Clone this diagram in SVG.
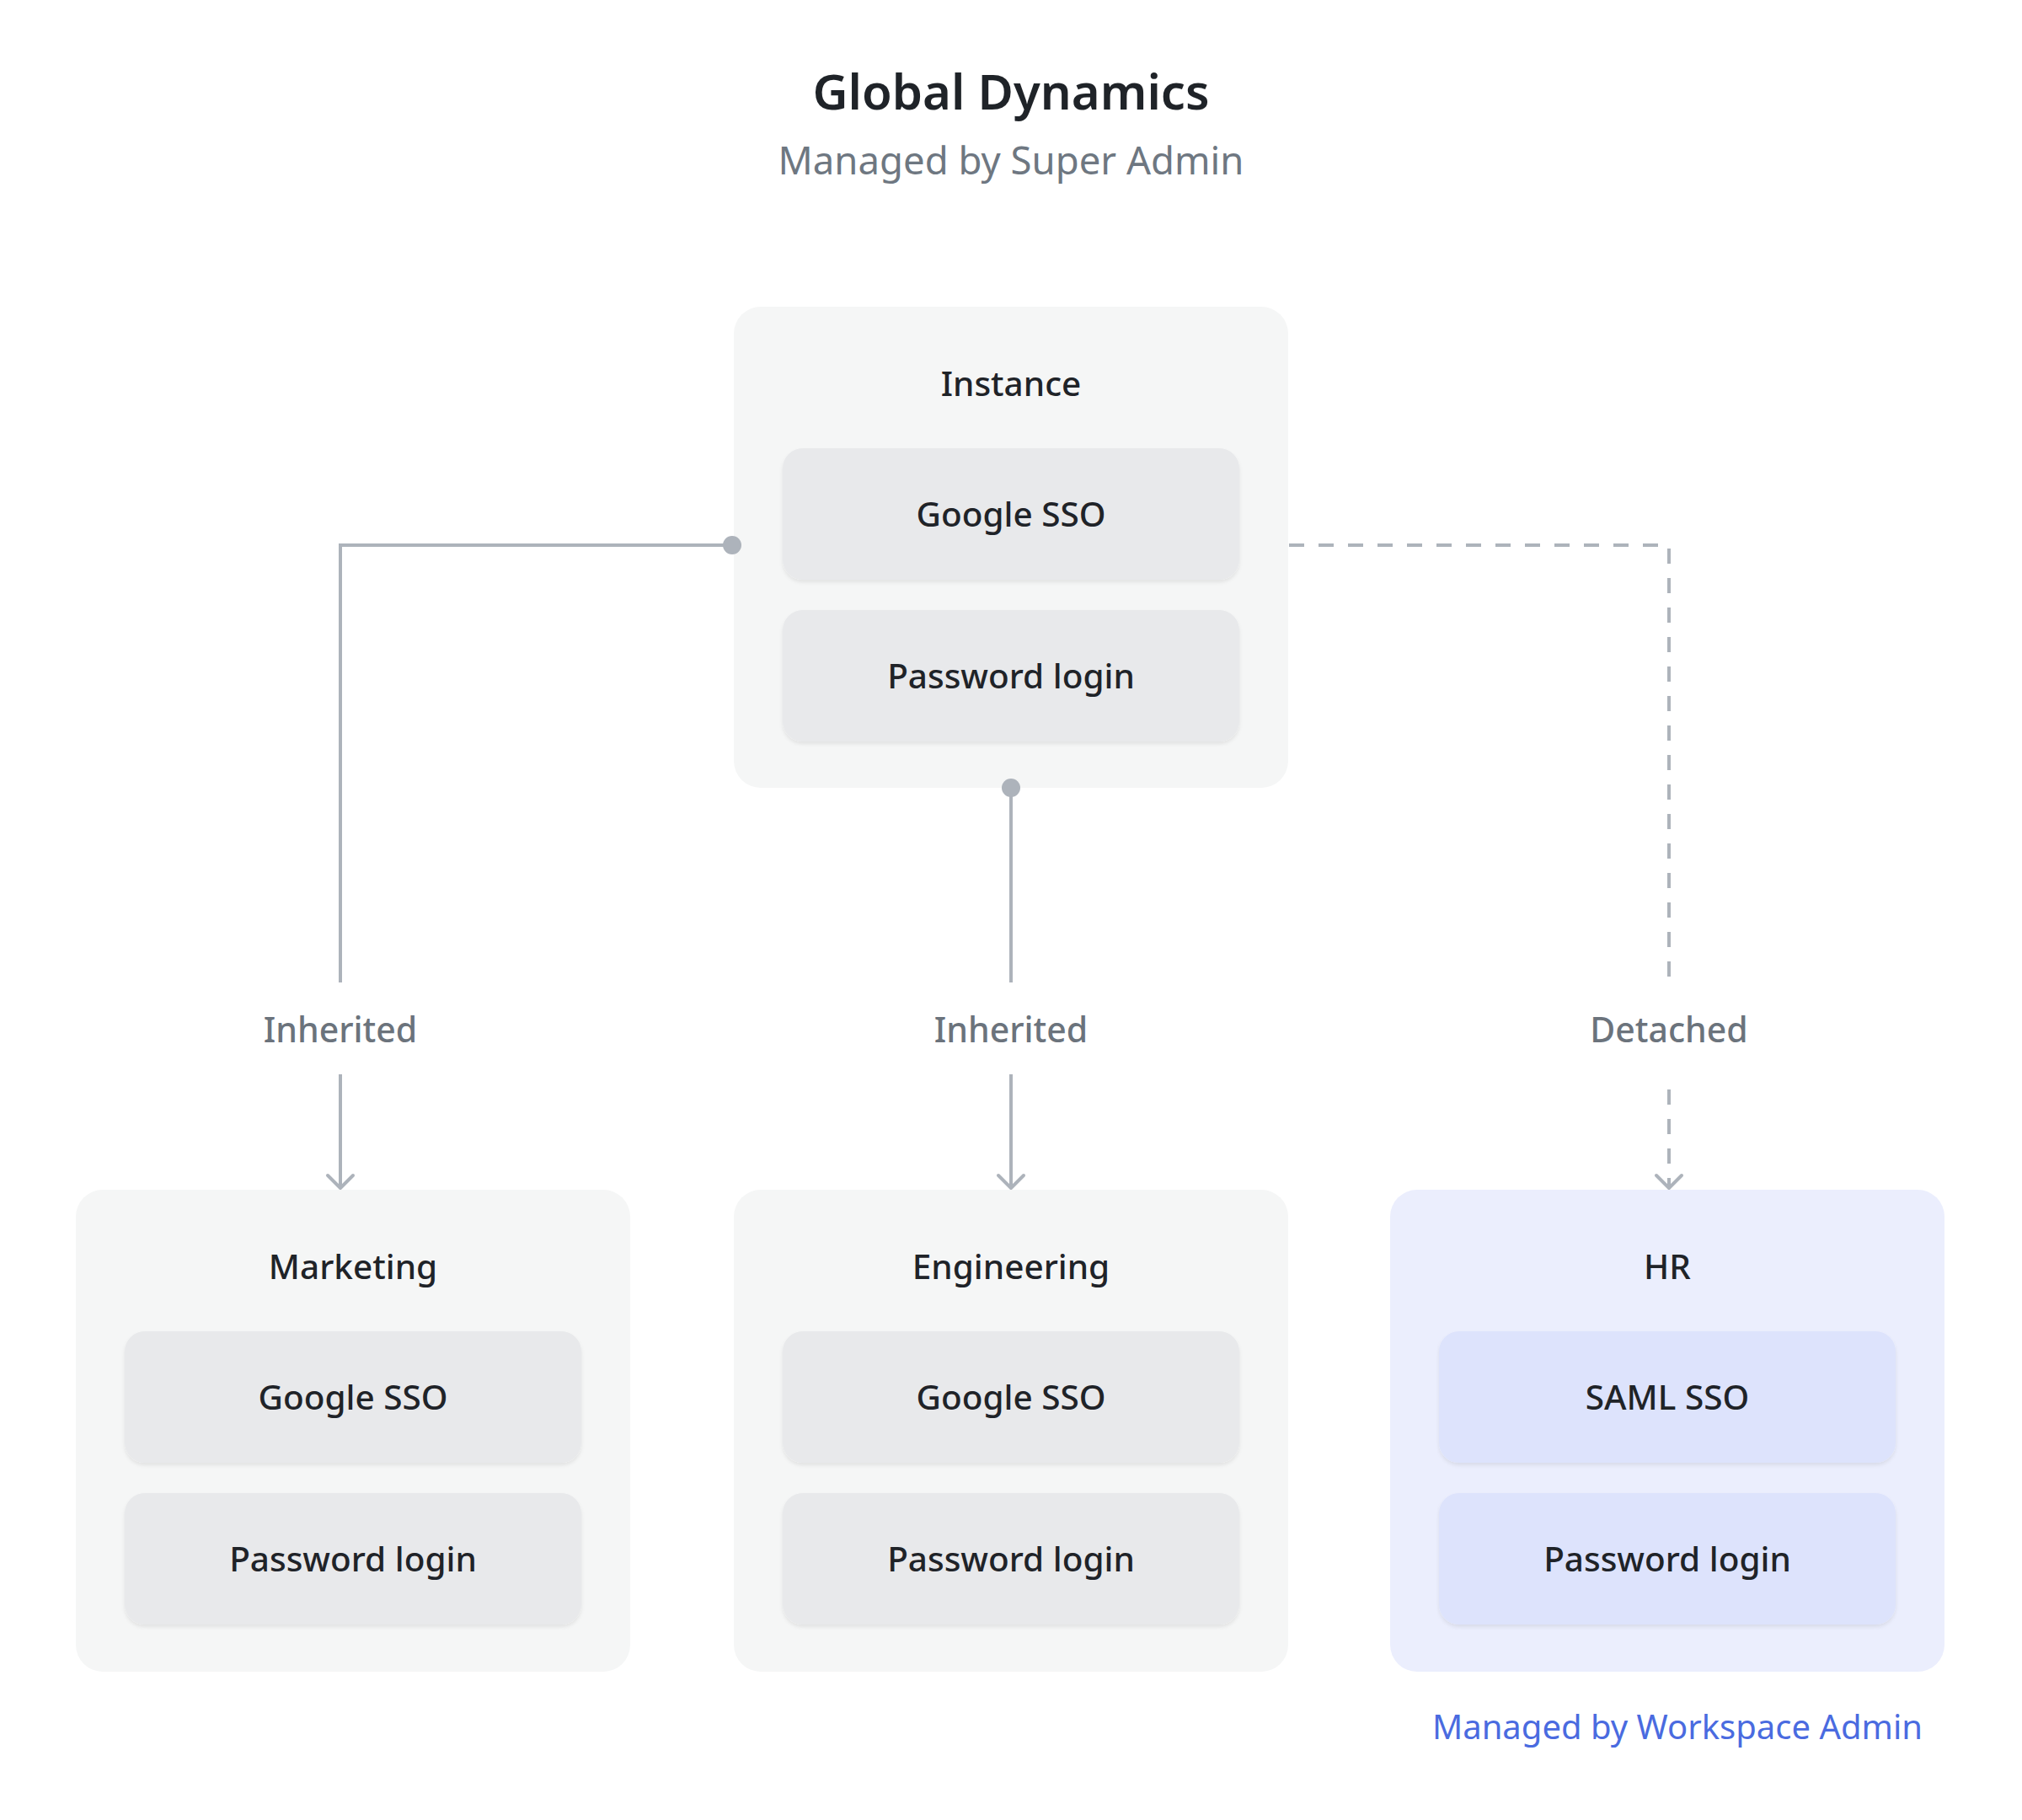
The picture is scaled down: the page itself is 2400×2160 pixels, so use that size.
<svg xmlns="http://www.w3.org/2000/svg" width="2400" height="2160" viewBox="0 0 2400 2160">
  <defs>
    <style>
      text { font-family: "Noto Sans", "Open Sans", "Liberation Sans", sans-serif; text-anchor: middle; }
      .title { font-size: 58px; font-weight: 600; fill: #1f2328; }
      .subtitle { font-size: 45.5px; font-weight: 400; fill: #6e7781; }
      .group { fill: #f5f6f6; }
      .group-hr { fill: #ebeefd; }
      .item { fill: #e8e9eb; filter: url(#shadow); }
      .item-hr { fill: #dde3fc; filter: url(#shadow); }
      .label { font-size: 40.5px; font-weight: 500; fill: #1f2328; }
      .edge-label { font-size: 41px; font-weight: 500; fill: #6b737c; }
      .note { font-size: 40px; font-weight: 400; fill: #4a6be0; }
      .conn { fill: none; stroke: #adb3bb; stroke-width: 4; }
      .dashed { stroke-dasharray: 18 17; }
      .dot { fill: #adb3bb; }
    </style>
    <filter id="shadow" x="-5%" y="-10%" width="110%" height="130%">
      <feDropShadow dx="0" dy="3" stdDeviation="2" flood-color="#000" flood-opacity="0.08"/>
    </filter>
    <marker id="arrow" viewBox="0 0 40 40" refX="36" refY="20" markerWidth="40" markerHeight="40" markerUnits="userSpaceOnUse" orient="auto">
      <path d="M21,5 L36,20 L21,35" fill="none" stroke="#adb3bb" stroke-width="4" stroke-linecap="round" stroke-linejoin="round" stroke-dasharray="none"/>
    </marker>
  </defs>

  <rect width="2400" height="2160" fill="#ffffff"/>

  <g id="header">
    <text class="title" x="1200" y="130">Global Dynamics</text>
    <text class="subtitle" x="1200" y="207">Managed by Super Admin</text>
  </g>

  <g id="instance">
    <rect class="group" x="871" y="364" width="658" height="571" rx="32"/>
    <text class="label" x="1200" y="470">Instance</text>
    <g id="instance-google">
      <rect class="item" x="929" y="532" width="542" height="156" rx="24"/>
      <text class="label" x="1200" y="625">Google SSO</text>
    </g>
    <g id="instance-password">
      <rect class="item" x="929" y="724" width="542" height="156" rx="24"/>
      <text class="label" x="1200" y="817">Password login</text>
    </g>
  </g>

  <g id="marketing">
    <rect class="group" x="90" y="1412" width="658" height="572" rx="32"/>
    <text class="label" x="419" y="1518">Marketing</text>
    <g id="marketing-google">
      <rect class="item" x="148" y="1580" width="542" height="156" rx="24"/>
      <text class="label" x="419" y="1673">Google SSO</text>
    </g>
    <g id="marketing-password">
      <rect class="item" x="148" y="1772" width="542" height="156" rx="24"/>
      <text class="label" x="419" y="1865">Password login</text>
    </g>
  </g>

  <g id="engineering">
    <rect class="group" x="871" y="1412" width="658" height="572" rx="32"/>
    <text class="label" x="1200" y="1518">Engineering</text>
    <g id="engineering-google">
      <rect class="item" x="929" y="1580" width="542" height="156" rx="24"/>
      <text class="label" x="1200" y="1673">Google SSO</text>
    </g>
    <g id="engineering-password">
      <rect class="item" x="929" y="1772" width="542" height="156" rx="24"/>
      <text class="label" x="1200" y="1865">Password login</text>
    </g>
  </g>

  <g id="hr">
    <rect class="group-hr" x="1650" y="1412" width="658" height="572" rx="32"/>
    <text class="label" x="1979" y="1518">HR</text>
    <g id="hr-saml">
      <rect class="item-hr" x="1708" y="1580" width="542" height="156" rx="24"/>
      <text class="label" x="1979" y="1673">SAML SSO</text>
    </g>
    <g id="hr-password">
      <rect class="item-hr" x="1708" y="1772" width="542" height="156" rx="24"/>
      <text class="label" x="1979" y="1865">Password login</text>
    </g>
  </g>

  <g id="hr-note">
    <text class="note" x="2282" y="2064" style="text-anchor:end">Managed by Workspace Admin</text>
  </g>

  <g id="connectors">
    <path class="conn" d="M869,647 H404 V1166"/>
    <path class="conn" d="M404,1275 V1410" marker-end="url(#arrow)"/>
    <path class="conn" d="M1200,935 V1166"/>
    <path class="conn" d="M1200,1275 V1410" marker-end="url(#arrow)"/>
    <path class="conn dashed" d="M1530,647 H1981 V1166"/>
    <path class="conn dashed" d="M1981,1293 V1410" marker-end="url(#arrow)"/>
    <circle class="dot" cx="869" cy="647" r="11"/>
    <circle class="dot" cx="1200" cy="935" r="11"/>
    <text class="edge-label" x="404" y="1237">Inherited</text>
    <text class="edge-label" x="1200" y="1237">Inherited</text>
    <text class="edge-label" x="1981" y="1237">Detached</text>
  </g>
</svg>
